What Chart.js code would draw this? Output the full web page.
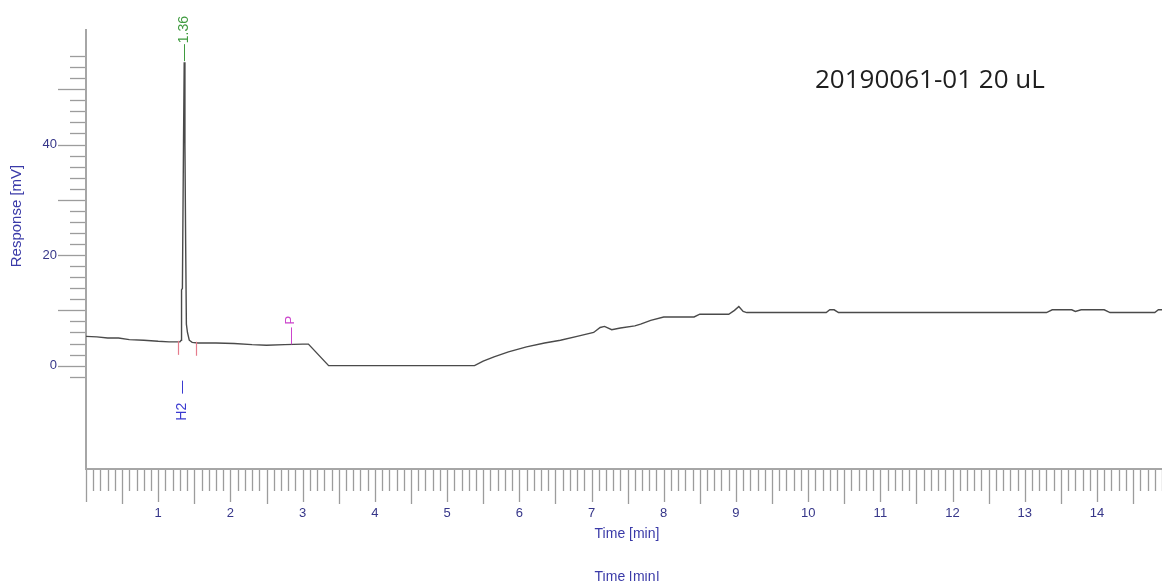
<!DOCTYPE html>
<html>
<head>
<meta charset="utf-8">
<title>20190061-01 20 uL</title>
<script src="https://cdn.jsdelivr.net/npm/chart.js@4.4.0/dist/chart.umd.min.js"></script>
<style>
  html, body { margin: 0; padding: 0; background: #fff; }
  canvas { display: block; }
</style>
</head>
<body>
<canvas id="chrom" width="1162" height="581"></canvas>
<script>
// Detector trace: retention time (min) and response (mV)
const timeMin = [
  0.00, 0.15, 0.30, 0.45, 0.60, 0.80, 1.00, 1.15, 1.25, 1.30,
  1.318, 1.323, 1.335, 1.350, 1.360, 1.370, 1.380, 1.390, 1.405, 1.430,
  1.47, 1.55, 1.80, 2.05, 2.30, 2.50, 2.75, 3.00, 3.08, 3.36,
  4.00, 5.00, 5.38, 5.50, 5.65, 5.85, 6.10, 6.35, 6.57, 6.80,
  7.03, 7.12, 7.18, 7.28, 7.40, 7.60, 7.68, 7.82, 8.00, 8.20,
  8.42, 8.50, 8.70, 8.90, 8.98, 9.04, 9.10, 9.15, 9.40, 9.80,
  10.25, 10.30, 10.36, 10.42, 10.90, 11.50, 12.00, 12.40, 12.80, 13.30,
  13.38, 13.65, 13.70, 13.78, 14.10, 14.18, 14.60, 14.80, 14.85, 14.90
];
const responseMv = [
  5.3, 5.2, 5.0, 5.0, 4.7, 4.6, 4.4, 4.3, 4.3, 4.3,
  4.6, 13.7, 14.0, 40.0, 54.9, 40.0, 22.0, 7.5, 6.0, 4.6,
  4.2, 4.1, 4.1, 4.0, 3.8, 3.7, 3.8, 3.9, 3.9, 0.0,
  0.0, 0.0, 0.0, 0.8, 1.6, 2.5, 3.4, 4.1, 4.6, 5.3,
  6.0, 6.9, 7.1, 6.5, 6.8, 7.2, 7.5, 8.2, 8.8, 8.8,
  8.8, 9.3, 9.3, 9.3, 10.0, 10.7, 9.8, 9.6, 9.6, 9.6,
  9.6, 10.1, 10.1, 9.6, 9.6, 9.6, 9.6, 9.6, 9.6, 9.6,
  10.1, 10.1, 9.8, 10.1, 10.1, 9.6, 9.6, 9.6, 10.1, 10.1
];

// Axis labels
const xTickLabels = [1, 2, 3, 4, 5, 6, 7, 8, 9, 10, 11, 12, 13, 14];
const yTickLabels = [0, 20, 40];

// Identified peaks, integration limits and events
const peakTimes = [1.36];
const peakNames = ['H2'];
const integrationMarks = [1.28, 1.52];
const eventTimes = [2.84];
const eventNames = ['P'];
const sampleName = '20190061-01 20 uL';

const AXIS_GREY = '#a6a6a6';
const TICK_GREY = '#9c9c9c';
const LABEL_BLUE = '#363689';
const TITLE_BLUE = '#3a3aa8';

function traceAt(t) {
  for (let i = 1; i < timeMin.length; i++) {
    if (t <= timeMin[i]) {
      const t0 = timeMin[i - 1], t1 = timeMin[i];
      const f = (t - t0) / (t1 - t0);
      return responseMv[i - 1] + f * (responseMv[i] - responseMv[i - 1]);
    }
  }
  return responseMv[responseMv.length - 1];
}

function rotatedText(ctx, text, x, y, align) {
  ctx.save();
  ctx.translate(x, y);
  ctx.rotate(-Math.PI / 2);
  ctx.textAlign = align;
  ctx.textBaseline = 'middle';
  ctx.fillText(text, 0, 0);
  ctx.restore();
}

function noEdgePadding(s) {
  s.paddingTop = 0;
  s.paddingBottom = 0;
  s.paddingLeft = 0;
  s.paddingRight = 0;
}

const axesPlugin = {
  id: 'chromAxes',
  beforeDatasetsDraw(chart) {
    const { ctx, chartArea: a, scales: { x, y } } = chart;
    ctx.save();
    // axis lines
    ctx.strokeStyle = AXIS_GREY;
    ctx.lineWidth = 2;
    ctx.beginPath();
    ctx.moveTo(a.left, a.top);
    ctx.lineTo(a.left, a.bottom);
    ctx.lineTo(a.right, a.bottom);
    ctx.stroke();

    // time ticks every 0.1 min
    ctx.strokeStyle = TICK_GREY;
    ctx.lineWidth = 1.3;
    for (let i = 0; i <= Math.round(x.max * 10); i++) {
      const px = Math.round(x.getPixelForValue(i / 10)) + 0.5;
      const len = i % 10 === 0 ? 33 : (i % 5 === 0 ? 35 : 22);
      ctx.beginPath();
      ctx.moveTo(px, a.bottom + 1);
      ctx.lineTo(px, a.bottom + len);
      ctx.stroke();
    }
    // response ticks every 2 mV
    for (let v = -2; v <= 56; v += 2) {
      const py = Math.round(y.getPixelForValue(v)) + 0.5;
      const len = v % 10 === 0 ? 28 : 16;
      ctx.beginPath();
      ctx.moveTo(a.left - len, py);
      ctx.lineTo(a.left - 1, py);
      ctx.stroke();
    }

    // axis titles
    ctx.fillStyle = TITLE_BLUE;
    ctx.font = '15px "Liberation Sans", Arial, sans-serif';
    rotatedText(ctx, 'Response [mV]', 17, 216, 'center');
    ctx.font = '14px "Liberation Sans", Arial, sans-serif';
    ctx.textAlign = 'center';
    ctx.textBaseline = 'middle';
    ctx.fillText('Time [min]', 627, 534);
    // repeated axis title, partly covered at the lower edge
    ctx.textBaseline = 'alphabetic';
    ctx.fillText('Time [min]', 627, 581);
    ctx.fillStyle = '#fff';
    ctx.fillRect(580, 555, 100, 16);
    ctx.restore();
  },
  afterDatasetsDraw(chart) {
    const { ctx, scales: { x, y } } = chart;
    ctx.save();

    // integration limits
    ctx.strokeStyle = '#e57c8c';
    ctx.lineWidth = 1.2;
    integrationMarks.forEach(t => {
      const px = Math.round(x.getPixelForValue(t)) + 0.5;
      const py = y.getPixelForValue(traceAt(t));
      ctx.beginPath();
      ctx.moveTo(px, py - 1);
      ctx.lineTo(px, py + 13);
      ctx.stroke();
    });

    // peak labels: retention time above, name below
    peakTimes.forEach((t, i) => {
      const px = Math.round(x.getPixelForValue(t)) + 0.5;
      const top = y.getPixelForValue(traceAt(t));
      ctx.strokeStyle = '#3f9b3f';
      ctx.lineWidth = 1;
      ctx.beginPath();
      ctx.moveTo(px, top - 1);
      ctx.lineTo(px, top - 18);
      ctx.stroke();
      ctx.fillStyle = '#3f9b3f';
      ctx.font = '14px "Liberation Sans", Arial, sans-serif';
      rotatedText(ctx, t.toFixed(2), px, top - 19, 'left');

      const base = y.getPixelForValue(0);
      ctx.strokeStyle = '#3a3ad0';
      ctx.beginPath();
      ctx.moveTo(px - 2, base + 15);
      ctx.lineTo(px - 2, base + 28);
      ctx.stroke();
      ctx.fillStyle = '#3a3ad0';
      rotatedText(ctx, peakNames[i], px - 2, base + 55, 'left');
    });

    // event markers
    eventTimes.forEach((t, i) => {
      const px = Math.round(x.getPixelForValue(t)) + 0.5;
      const py = y.getPixelForValue(traceAt(t));
      ctx.strokeStyle = '#cc44cc';
      ctx.lineWidth = 1;
      ctx.beginPath();
      ctx.moveTo(px, py);
      ctx.lineTo(px, py - 17);
      ctx.stroke();
      ctx.fillStyle = '#cc44cc';
      ctx.font = '13px "Liberation Sans", Arial, sans-serif';
      rotatedText(ctx, eventNames[i], px - 1, py - 20, 'left');
    });

    // sample annotation
    ctx.fillStyle = '#1e1e1e';
    ctx.font = '26px "Open Sans", sans-serif';
    ctx.textAlign = 'left';
    ctx.textBaseline = 'alphabetic';
    ctx.fillText(sampleName, 815, 88);
    ctx.restore();
  }
};

new Chart(document.getElementById('chrom'), {
  type: 'line',
  data: {
    datasets: [{
      data: timeMin.map((t, i) => ({ x: t, y: responseMv[i] })),
      borderColor: '#4a4a4a',
      borderWidth: 1.4,
      pointRadius: 0,
      tension: 0,
      fill: false
    }]
  },
  options: {
    responsive: false,
    animation: false,
    devicePixelRatio: 1,
    layout: { padding: { top: 29, right: 0, left: 0, bottom: 0 } },
    plugins: { legend: { display: false }, tooltip: { enabled: false } },
    scales: {
      x: {
        type: 'linear',
        min: 0,
        max: 14.9,
        grid: { display: false, drawTicks: false },
        border: { display: false },
        afterBuildTicks: s => { s.ticks = xTickLabels.map(v => ({ value: v })); },
        afterFit: s => { s.height = 112; noEdgePadding(s); },
        ticks: {
          padding: 37,
          color: LABEL_BLUE,
          font: { family: '"Liberation Sans", Arial, sans-serif', size: 13 },
          maxRotation: 0,
          autoSkip: false
        }
      },
      y: {
        type: 'linear',
        min: -18.7,
        max: 60.9,
        grid: { display: false, drawTicks: false },
        border: { display: false },
        afterBuildTicks: s => { s.ticks = yTickLabels.map(v => ({ value: v })); },
        afterFit: s => { s.width = 86; noEdgePadding(s); },
        ticks: {
          padding: 29,
          color: LABEL_BLUE,
          font: { family: '"Liberation Sans", Arial, sans-serif', size: 13 }
        }
      }
    }
  },
  plugins: [axesPlugin]
});
</script>
</body>
</html>
